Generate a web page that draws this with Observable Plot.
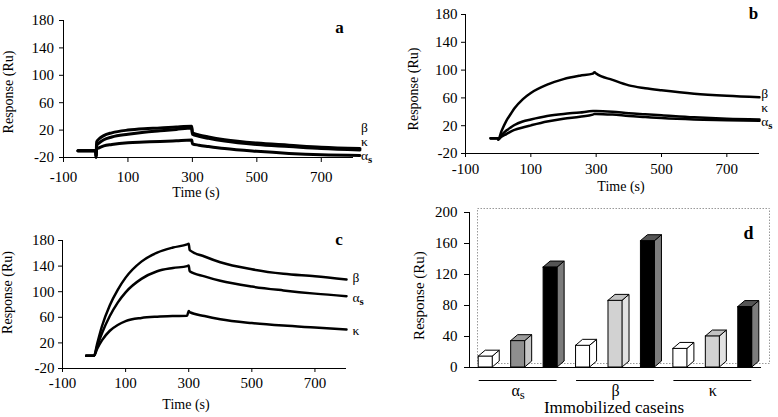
<!DOCTYPE html>
<html><head><meta charset="utf-8">
<script src="https://cdn.jsdelivr.net/npm/d3@7"></script>
<script src="https://cdn.jsdelivr.net/npm/@observablehq/plot@0.6"></script>
<style>
html,body{margin:0;padding:0;background:#fff;}
#fig{position:relative;width:778px;height:417px;overflow:hidden;background:#fff;}
#fig > svg{position:absolute;}
#fig svg, #fig svg text, #fig svg g{font-family:"Liberation Serif","Times New Roman",serif !important;}
</style></head><body><div id="fig"></div>
<script>
// ---------- data ----------
const seriesNames = ["β", "κ", "αs"];
const xTicksCurves = [-100, 100, 300, 500, 700];
const yTicksCurves = [-20, 20, 60, 100, 140, 180];

// panel a
const timeA  = [-55, 0, 1, 3, 10, 25, 50, 100, 150, 200, 250, 298, 300, 320, 350, 400, 500, 600, 700, 820];
const betaA  = [-10, -10, -18, 3, 7, 12, 16, 20, 22, 23, 24.5, 25.5, 16, 13, 10, 6, 1, -2, -5, -7];
const kappaA = [-10, -10, -18, -2, 1, 6, 10, 14, 17, 19, 21, 23, 14, 11, 8, 4, -1, -4, -7, -9];
const alphaA = [-10, -10, -20, -8, -6, -3, -1, 1.5, 2.5, 3.4, 4.5, 5.5, 0, -2, -4, -7, -11, -14, -16, -17];
const labelYA = [24, 3.5, -17.5];

// panel b
const timeB  = [-23, -1, 0, 10, 25, 40, 50, 75, 100, 150, 200, 250, 290, 295, 300, 350, 400, 450, 500, 600, 700, 800];
const betaB  = [2, 2, 0, 12, 27, 38, 45, 58, 67, 79, 87, 92, 95, 97, 95, 86, 78, 74, 71, 66, 63, 61];
const kappaB = [2, 2, 0, 6, 13, 18, 21, 26, 29, 34, 37, 39, 41, 41, 41, 40, 38, 36.5, 35, 32, 30, 29];
const alphaB = [2, 2, 0, 4, 8, 12, 14, 17.5, 20.5, 26, 30, 33, 36, 37, 37, 36, 34, 32.5, 31, 29, 28, 27];
const labelYB = [66.5, 46, 26];

// panel c
const timeC  = [-25, 0, 10, 25, 50, 75, 100, 150, 200, 250, 295, 300, 303, 350, 400, 500, 600, 700, 800];
const betaC  = [0, 0, 19, 46, 79, 103, 122, 147, 161, 169, 174, 175, 165, 155, 146, 135, 128, 124, 119];
const kappaC = [0, 0, 11, 24, 39, 48, 54, 59, 61, 62, 62.5, 70, 68, 62, 57, 51, 47, 44, 41];
const alphaC = [0, 0, 15, 35, 62, 83, 99, 120, 132, 137, 140, 141, 132, 124, 117, 108, 102, 97, 93];
const labelYC = [122, 39, 91];

// panel d
const groups = ["αs", "β", "κ"];
const barWhite = [14, 28, 24];
const barGray  = [34, 86, 40];
const barBlack = [129, 163, 78];
const yTicksBars = [0, 40, 80, 120, 160, 200];

// ---------- helpers ----------
const fig = document.getElementById("fig");
const NS = "http://www.w3.org/2000/svg";
const FONT = "'Liberation Serif', 'Times New Roman', serif";
const fmt = d => String(d);

function subscriptAlpha(svg, bold) {
  svg.querySelectorAll("text").forEach(t => {
    if (t.textContent === "αs") {
      const target = t.querySelector("tspan") || t;
      target.textContent = "α";
      const s = document.createElementNS(NS, "tspan");
      s.setAttribute("dy", "0.3em");
      s.setAttribute("font-size", "0.8em");
      if (bold) s.setAttribute("font-weight", "bold");
      s.textContent = "s";
      target.appendChild(s);
    }
  });
}

function place(svg, left, top) {
  svg.style.position = "absolute";
  svg.style.left = left + "px";
  svg.style.top = top + "px";
  fig.appendChild(svg);
}

function curvePanel(o) {
  const rows = [];
  o.series.forEach((vals, k) => vals.forEach((v, i) => rows.push({s: seriesNames[k], t: o.time[i], v})));
  const labels = seriesNames.map((n, k) => ({n, t: o.labelT, v: o.labelY[k]}));
  const svg = Plot.plot({
    width: o.w, height: o.h,
    marginLeft: o.mL, marginRight: o.mR, marginTop: o.mT, marginBottom: o.mB,
    style: {fontFamily: FONT, fontSize: "15px", background: "transparent", color: "black", overflow: "visible"},
    x: {domain: [-100, 800], ticks: xTicksCurves, tickFormat: fmt, tickSize: o.xTS, tickPadding: o.xPad, label: null},
    y: {domain: [-20, 180], ticks: yTicksCurves, tickFormat: fmt, tickSize: 4, tickPadding: o.yPad, label: null},
    marks: [
      Plot.ruleX([-100], {stroke: "black"}),
      Plot.ruleY([-20], {stroke: "black"}),
      Plot.line(rows, {x: "t", y: "v", z: "s", stroke: "black", strokeWidth: o.sw, curve: "monotone-x"}),
      Plot.text(labels, {x: "t", y: "v", text: "n", textAnchor: "start", fontSize: 13.5, fill: "black"}),
      Plot.text([o.letter], {text: d => d, frameAnchor: "top-right", textAnchor: "middle", dx: o.letDx, dy: o.letDy, fontWeight: "bold", fontSize: 17, fill: "black"}),
      Plot.text(["Time (s)"], {text: d => d, frameAnchor: "bottom", textAnchor: "middle", dx: o.tDx, dy: o.tDy, fontSize: 14, fill: "black"}),
      Plot.text(["Response (Ru)"], {text: d => d, frameAnchor: "left", textAnchor: "middle", rotate: -90, dx: o.rDx, dy: o.rDy, fontSize: 14, fill: "black"})
    ]
  });
  subscriptAlpha(svg, true);
  place(svg, o.left, o.top);
}

curvePanel({left: 0, top: 0, w: 389, h: 208, mL: 63, mR: 36, mT: 20, mB: 51,
  xTS: 5, xPad: 8.5, yPad: 5.5, sw: 3, time: timeA, series: [betaA, kappaA, alphaA],
  labelT: 823, labelY: labelYA, letter: "a", letDx: -14, letDy: 0,
  tDx: -12.5, tDy: 39.5, rDx: -55, rDy: 3});

curvePanel({left: 389, top: 0, w: 389, h: 208, mL: 76, mR: 19, mT: 14, mB: 55,
  xTS: 4, xPad: 5.5, yPad: 4, sw: 2.5, time: timeB, series: [betaB, kappaB, alphaB],
  labelT: 805, labelY: labelYB, letter: "b", letDx: -6, letDy: -8,
  tDx: 8.5, tDy: 37, rDx: -52, rDy: 5});

curvePanel({left: 0, top: 208, w: 389, h: 209, mL: 62, mR: 43, mT: 32, mB: 49,
  xTS: 4, xPad: 5, yPad: 4, sw: 2.5, time: timeC, series: [betaC, kappaC, alphaC],
  labelT: 819, labelY: labelYC, letter: "c", letDx: -7.5, letDy: -7.5,
  tDx: -18.5, tDy: 40, rDx: -55, rDy: -12});

// ---------- panel d: 3-D bars ----------
(function () {
  const hw = 0.216, dX = 0.216, dY = 7.7;
  const palette = (s, g) => {
    if (s === 0) return {front: "#ffffff", side: "#ffffff", top: "#ffffff"};
    if (s === 2) return {front: "#000000", side: "#7c7c7c", top: "#555555"};
    return g === 0 ? {front: "#8e8e8e", side: "#c6c6c6", top: "#9c9c9c"}
                   : {front: "#d2d2d2", side: "#e2e2e2", top: "#c2c2c2"};
  };
  const bars = [];
  [barWhite, barGray, barBlack].forEach((vals, s) =>
    vals.forEach((v, g) => bars.push({id: g * 3 + s, g, s, v, pos: g * 3 + s + 0.5, c: palette(s, g)})));
  const side = bars.flatMap(b => [
    {id: b.id, x: b.pos + hw, y1: 0, y2: b.v, c: b.c.side},
    {id: b.id, x: b.pos + hw + dX, y1: dY, y2: b.v + dY, c: b.c.side}]);
  const topF = bars.flatMap(b => [
    {id: b.id, y: b.v, x1: b.pos - hw, x2: b.pos + hw, c: b.c.top},
    {id: b.id, y: b.v + dY, x1: b.pos - hw + dX, x2: b.pos + hw + dX, c: b.c.top}]);
  const svg = Plot.plot({
    width: 389, height: 209, marginLeft: 80, marginRight: 17, marginTop: 4, marginBottom: 50,
    style: {fontFamily: FONT, fontSize: "15px", background: "transparent", color: "black", overflow: "visible"},
    color: {type: "identity"},
    x: {domain: [0, 9], axis: null},
    y: {domain: [0, 200], ticks: yTicksBars, tickFormat: fmt, tickSize: 5, tickPadding: 7, label: null},
    marks: [
      Plot.frame({stroke: "#999", strokeDasharray: "1.5,1.5", dx: 8, dy: -4}),
      Plot.area(side, {x1: "x", y1: "y1", y2: "y2", z: "id", fill: "c", stroke: "black", strokeWidth: 1}),
      Plot.area(topF, {y1: "y", x1: "x1", x2: "x2", z: "id", fill: "c", stroke: "black", strokeWidth: 1}),
      Plot.rect(bars, {x1: b => b.pos - hw, x2: b => b.pos + hw, y1: () => 0, y2: "v", fill: b => b.c.front, stroke: "black", strokeWidth: 1}),
      Plot.ruleX([0], {stroke: "black"}),
      Plot.ruleY([0], {stroke: "black"}),
      Plot.ruleY(groups, {y: () => 0, x1: (d, i) => i * 3 + 0.3, x2: (d, i) => i * 3 + 2.7, dy: 13, stroke: "black"}),
      Plot.text(groups, {text: d => d, x: (d, i) => i * 3 + 1.5, y: () => 0, dy: 23, fontSize: 16, fill: "black"}),
      Plot.text(["Immobilized caseins"], {text: d => d, frameAnchor: "bottom", textAnchor: "middle", dx: -1.5, dy: 45, fontSize: 17, fill: "black"}),
      Plot.text(["Response (Ru)"], {text: d => d, frameAnchor: "left", textAnchor: "middle", rotate: -90, dx: -50, dy: 5.5, fontSize: 15, fill: "black"}),
      Plot.text(["d"], {text: d => d, frameAnchor: "top-right", textAnchor: "middle", dx: -13, dy: 14, fontWeight: "bold", fontSize: 18, fill: "black"})
    ]
  });
  subscriptAlpha(svg, false);
  place(svg, 389, 208);
})();
</script>
</body></html>
